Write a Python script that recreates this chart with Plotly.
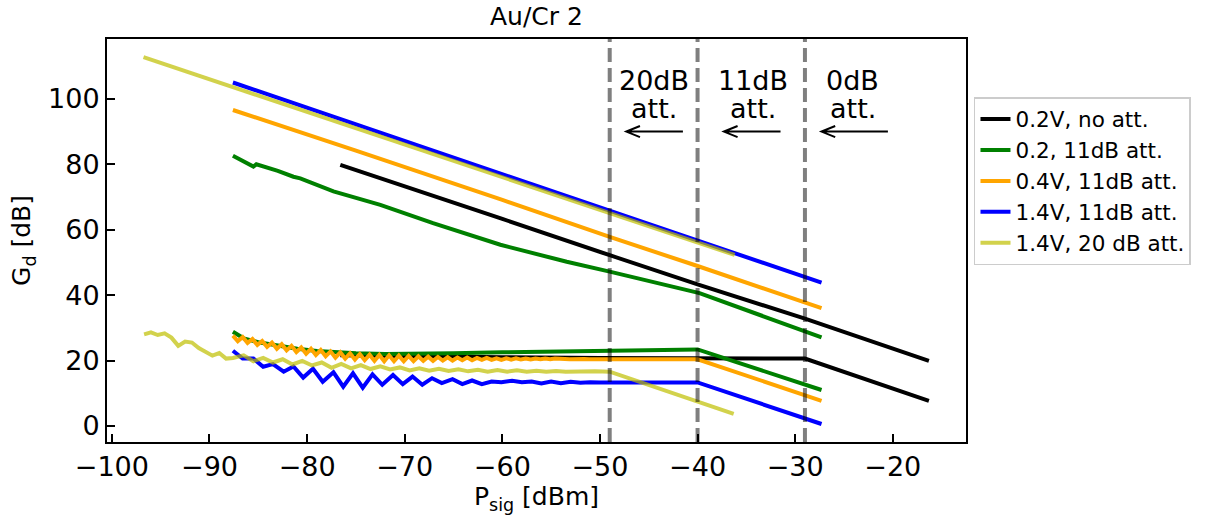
import plotly.graph_objects as go

# ---- data: P_sig [dBm] vs G_d [dB]; each setting has an upper and a lower branch ----
blk_up_x = [-76.6, -70.0, -60.0, -49.0, -40.0, -29.0, -16.3]
blk_up_y = [79.8, 73.3, 63.3, 52.2, 43.3, 32.8, 19.9]
blk_lo_x = [-76.6, -70.0, -60.0, -50.0, -40.0, -29.0, -16.3]
blk_lo_y = [21.6, 21.3, 21.0, 20.8, 20.7, 20.6, 7.7]

grn_up_x = [-87.6, -86.5, -85.5, -85.2, -83.0, -81.4, -80.7, -77.3, -72.5, -67.1, -60.2, -53.4, -49.0, -39.8, -27.3]
grn_up_y = [82.6, 81.0, 79.3, 80.0, 78.0, 76.2, 75.7, 71.7, 67.6, 62.0, 55.4, 50.2, 47.2, 40.6, 27.1]
grn_lo_x = [-87.6, -86.5, -85.0, -83.0, -81.0, -79.0, -77.0, -75.0, -72.0, -70.0, -65.0, -60.0, -55.0, -50.0, -45.0, -40.0, -27.3]
grn_lo_y = [28.8, 26.8, 25.6, 24.5, 23.6, 22.9, 22.5, 22.2, 22.0, 22.0, 22.2, 22.5, 22.8, 23.1, 23.3, 23.4, 11.0]

org_up_x = [-87.6, -75.0, -60.0, -49.0, -40.0, -27.3]
org_up_y = [96.6, 84.2, 69.1, 57.8, 48.9, 36.0]
org_lo_x = [-87.6, -87.1, -86.6, -86.1, -85.6, -85.1, -84.6, -84.1, -83.6, -83.1,
            -82.6, -82.1, -81.6, -81.1, -80.6, -80.1, -79.6, -79.1, -78.6, -78.1,
            -77.6, -77.1, -76.6, -76.1, -75.6, -75.1, -74.6, -74.1, -73.6, -73.1,
            -72.6, -72.1, -71.6, -71.1, -70.6, -70.1, -69.6, -69.1, -68.6, -68.1,
            -67.6, -67.1, -66.6, -66.1, -65.6, -65.1, -64.6, -64.1, -63.6, -63.1,
            -62.6, -62.1, -61.6, -61.1, -60.6, -60.1, -59.6, -59.1, -58.6, -58.1,
            -57.6, -57.1, -56.6, -56.1, -55.6, -55.1, -54.6, -54.1, -53.6, -53.1,
            -52.6, -52.1, -51.6, -51.1, -50.6, -50.1, -45.0, -40.0, -27.3]
org_lo_y = [27.6, 25.9, 27.2, 25.4, 26.6, 24.8, 26.0, 24.2, 25.5, 23.6,
            25.0, 23.1, 24.5, 22.6, 24.0, 22.1, 23.6, 21.7, 23.2, 21.3,
            22.8, 20.9, 22.5, 20.6, 22.2, 20.3, 22.0, 20.1, 21.8, 19.9,
            21.7, 19.8, 21.6, 19.8, 21.5, 19.8, 21.4, 19.8, 21.3, 19.9,
            21.2, 19.9, 21.1, 20.0, 21.0, 20.0, 20.9, 20.1, 20.9, 20.1,
            20.8, 20.2, 20.8, 20.2, 20.7, 20.2, 20.7, 20.3, 20.7, 20.3,
            20.6, 20.3, 20.6, 20.4, 20.6, 20.4, 20.6, 20.4, 20.5, 20.4,
            20.5, 20.4, 20.5, 20.4, 20.5, 20.4, 20.4, 20.4, 7.7]

blu_up_x = [-87.6, -75.0, -60.0, -49.0, -40.0, -36.2, -27.3]
blu_up_y = [105.0, 92.2, 77.0, 65.8, 56.7, 52.8, 43.8]
blu_lo_x = [-87.6, -86.6, -85.5, -84.5, -83.5, -82.4, -81.4, -80.4, -79.4, -78.4,
            -77.3, -76.3, -75.3, -74.3, -73.3, -72.3, -71.2, -70.2, -69.2, -68.2,
            -67.2, -66.2, -65.1, -64.1, -63.1, -62.1, -61.1, -60.1, -59.0, -58.0,
            -57.0, -56.0, -55.0, -54.0, -53.0, -52.0, -51.0, -50.0, -40.0, -27.3]
blu_lo_y = [23.0, 20.6, 20.6, 18.1, 18.9, 16.6, 18.2, 14.8, 17.5, 13.5,
            16.4, 12.0, 16.1, 11.7, 15.8, 12.6, 15.6, 12.8, 15.1, 12.6,
            14.6, 13.1, 14.3, 12.8, 13.9, 12.8, 13.6, 13.4, 13.8, 13.4,
            13.6, 13.0, 13.6, 13.1, 13.5, 13.2, 13.4, 13.3, 13.3, 0.6]

yel_up_x = [-96.76, -87.6, -75.0, -60.0, -49.0, -36.2]
yel_up_y = [112.75, 103.6, 91.0, 76.0, 65.0, 52.3]
yel_lo_x = [-96.7, -96.0, -95.3, -94.6, -93.9, -93.2, -92.5, -91.8, -91.1, -90.4,
            -89.7, -89.0, -88.3, -87.6, -86.5, -85.5, -84.5, -83.5, -82.5, -81.5,
            -80.5, -79.5, -78.5, -77.5, -76.5, -75.5, -74.5, -73.5, -72.5, -71.5,
            -70.5, -69.5, -68.5, -67.5, -66.5, -65.5, -64.5, -63.5, -62.5, -61.5,
            -60.5, -59.5, -58.5, -57.5, -56.5, -55.5, -54.5, -53.5, -52.5, -51.5,
            -50.5, -49.0, -36.3]
yel_lo_y = [28.0, 28.6, 27.8, 28.3, 27.0, 24.5, 25.8, 25.5, 23.8, 22.6,
            21.5, 22.3, 20.6, 20.8, 21.6, 19.8, 20.8, 19.4, 20.4, 18.8,
            19.9, 18.5, 19.4, 17.8, 19.0, 17.6, 18.6, 17.4, 18.2, 17.3,
            17.9, 17.0, 17.6, 16.9, 17.5, 16.8, 17.3, 16.7, 17.2, 16.6,
            17.1, 16.6, 17.0, 16.6, 16.9, 16.6, 16.8, 16.6, 16.7, 16.6,
            16.7, 16.6, 3.7]

series = [
    ("0.2V, no att.", "black", blk_up_x, blk_up_y, blk_lo_x, blk_lo_y),
    ("0.2, 11dB att.", "green", grn_up_x, grn_up_y, grn_lo_x, grn_lo_y),
    ("0.4V, 11dB att.", "orange", org_up_x, org_up_y, org_lo_x, org_lo_y),
    ("1.4V, 11dB att.", "blue", blu_up_x, blu_up_y, blu_lo_x, blu_lo_y),
    ("1.4V, 20 dB att.", "rgba(191,191,0,0.7)", yel_up_x, yel_up_y, yel_lo_x, yel_lo_y),
]

# attenuator switch points and region labels
switch_x = [-49.0, -40.0, -29.0]
region_labels = [("20dB", "att.", -44.5, -41.5, -47.3),
                 ("11dB", "att.", -34.3, -31.5, -37.3),
                 ("0dB", "att.", -24.1, -20.5, -27.3)]
arrow_y = 90.0

FONT = "DejaVu Sans"

fig = go.Figure()
for name, color, ux, uy, lx, ly in series:
    fig.add_trace(go.Scatter(
        x=ux + [None] + lx, y=uy + [None] + ly,
        mode="lines", name=name,
        line=dict(color=color, width=4),
        connectgaps=False,
    ))

shapes = []
for sx in switch_x:
    shapes.append(dict(type="line", xref="x", yref="paper", x0=sx, x1=sx, y0=0, y1=1,
                       line=dict(color="rgba(0,0,0,0.5)", width=4, dash="14px,6px"),
                       layer="above"))

annotations = []
for l1, l2, tx, tail, head in region_labels:
    annotations.append(dict(x=tx, y=105.6, xref="x", yref="y", text=l1, showarrow=False,
                            font=dict(family=FONT, size=27, color="black"),
                            xanchor="center", yanchor="middle"))
    annotations.append(dict(x=tx, y=97.2, xref="x", yref="y", text=l2, showarrow=False,
                            font=dict(family=FONT, size=27, color="black"),
                            xanchor="center", yanchor="middle"))
    # open arrow pointing toward lower power
    hx, hy = 1.4, 1.7
    shapes.append(dict(type="path", xref="x", yref="y",
                       path=f"M {tail} {arrow_y} L {head} {arrow_y} "
                            f"M {head + hx} {arrow_y + hy} L {head} {arrow_y} L {head + hx} {arrow_y - hy}",
                       line=dict(color="black", width=2)))

axis_common = dict(
    showline=True, linecolor="black", linewidth=2, mirror=True,
    ticks="inside", ticklen=8, tickwidth=1.5, tickcolor="black",
    showgrid=False, zeroline=False,
    tickfont=dict(family=FONT, size=27, color="black"),
)

fig.update_layout(
    width=1205, height=520,
    margin=dict(l=107, r=239, t=39, b=78),
    paper_bgcolor="white", plot_bgcolor="white",
    title=dict(text="Au/Cr 2", x=0.4452, xanchor="center", y=0.968, yanchor="middle",
               font=dict(family=FONT, size=25, color="black")),
    xaxis=dict(range=[-100.5, -12.5], tickmode="array",
               tickvals=[-100, -90, -80, -70, -60, -50, -40, -30, -20],
               title=dict(text="P<sub>sig</sub> [dBm]", font=dict(family=FONT, size=25, color="black"),
                          standoff=6),
               **axis_common),
    yaxis=dict(range=[-4.9, 118.3], tickmode="array",
               tickvals=[0, 20, 40, 60, 80, 100],
               title=dict(text="G<sub>d</sub> [dB]", font=dict(family=FONT, size=25, color="black"),
                          standoff=10),
               **axis_common),
    legend=dict(x=1.0093, y=0.856, xanchor="left", yanchor="top",
                bgcolor="white", bordercolor="#cccccc", borderwidth=1.5,
                font=dict(family=FONT, size=21.5, color="black"),
                itemwidth=30),
    shapes=shapes,
    annotations=annotations,
    showlegend=True,
)

fig.write_html("out.html")
